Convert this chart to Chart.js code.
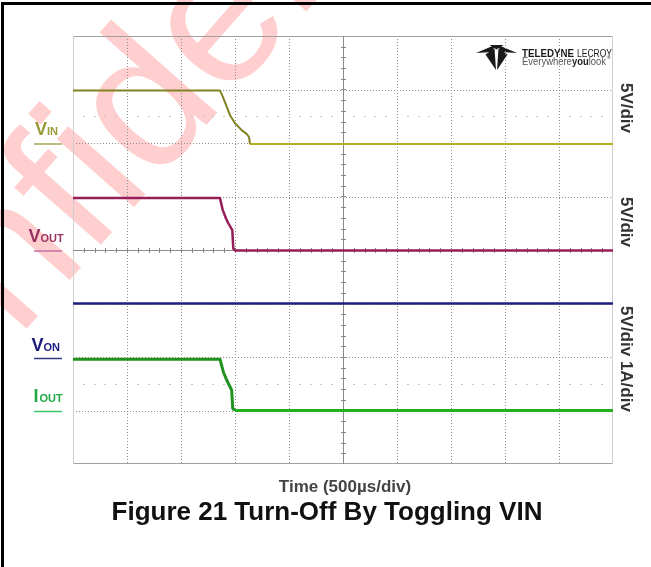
<!DOCTYPE html>
<html><head><meta charset="utf-8">
<script src="https://cdn.jsdelivr.net/npm/chart.js@4.4.1/dist/chart.umd.min.js"></script>
<style>html,body{margin:0;padding:0;background:#fff;}canvas{display:block;}</style>
</head><body>
<canvas id="c" width="651" height="567" style="width:651px;height:567px"></canvas>
<script>
// ---- data (time in µs, level in screen divisions from centre) ----
const xGridTimes = [0, 500, 1000, 1500, 2000, 2500, 3000, 3500, 4000, 4500, 5000];
const yGridDivs = [-4, -3, -2, -1, 0, 1, 2, 3, 4];

const vinTime  = [0, 1361, 1386, 1423, 1454, 1500, 1562, 1608, 1630, 1639, 5000];
const vinLevel = [2.98, 2.98, 2.87, 2.68, 2.52, 2.37, 2.24, 2.17, 2.11, 1.98, 1.98];

const voutTime  = [0, 1361, 1386, 1417, 1438, 1475, 1484, 1500, 5000];
const voutLevel = [0.97, 0.97, 0.75, 0.59, 0.50, 0.37, 0.03, -0.01, -0.01];

const vonTime  = [0, 5000];
const vonLevel = [-1.0, -1.0];

const ioutTime  = [0, 1361, 1392, 1423, 1469, 1479, 1500, 5000];
const ioutLevel = [-2.04, -2.04, -2.28, -2.43, -2.62, -2.96, -3.0, -3.0];

const seriesMain = ['V', 'V', 'V', 'I'];
const seriesSub  = ['IN', 'OUT', 'ON', 'OUT'];
const rightLabels = ['5V/div', '5V/div', '5V/div 1A/div'];
const xTitle = 'Time (500µs/div)';
const figureTitle = 'Figure 21 Turn-Off By Toggling VIN';
const watermark = 'Confidential';

function pts(t, v) { return t.map((x, i) => ({ x: x, y: v[i] })); }

const FONT = '"Liberation Sans", Arial, Helvetica, sans-serif';

const scopePlugin = {
  id: 'scope',
  beforeDraw(chart) {
    const ctx = chart.ctx;
    ctx.save();
    ctx.fillStyle = '#fff';
    ctx.fillRect(0, 0, chart.width, chart.height);
    // watermark
    ctx.translate(-147, 526);
    ctx.rotate(-48.6 * Math.PI / 180);
    ctx.fillStyle = 'rgba(255,0,0,0.19)';
    ctx.font = '195px ' + FONT;
    ctx.textAlign = 'left';
    ctx.textBaseline = 'alphabetic';
    ctx.fillText(watermark, 0, 0);
    ctx.restore();
    // page frame
    ctx.save();
    ctx.fillStyle = '#000';
    ctx.fillRect(1, 2, 3, chart.height);
    ctx.fillRect(1, 2, chart.width, 3);
    ctx.restore();
  },
  beforeDatasetsDraw(chart) {
    const ctx = chart.ctx, xs = chart.scales.x, ys = chart.scales.y, a = chart.chartArea;
    ctx.save();
    drawLogo(ctx);
    // dotted grid
    ctx.strokeStyle = '#8f8f8f';
    ctx.lineWidth = 1;
    ctx.setLineDash([1, 2]);
    xGridTimes.forEach(v => {
      if (v === 2500 || v === 0 || v === 5000) return;
      const px = Math.round(xs.getPixelForValue(v)) + 0.5;
      ctx.beginPath(); ctx.moveTo(px, a.top); ctx.lineTo(px, a.bottom); ctx.stroke();
    });
    yGridDivs.forEach(v => {
      if (v === 0 || v === 4 || v === -4) return;
      const py = Math.round(ys.getPixelForValue(v)) + 0.5;
      ctx.beginPath(); ctx.moveTo(a.left, py); ctx.lineTo(a.right, py); ctx.stroke();
    });
    ctx.setLineDash([]);
    // faint half-division tick rows
    ctx.strokeStyle = '#c4c4c4';
    [2.5, -2.5].forEach(d => {
      const py = Math.round(ys.getPixelForValue(d)) + 0.5;
      for (let t = 100; t < 5000; t += 100) {
        if (t % 500 === 0) continue;
        const px = Math.round(xs.getPixelForValue(t));
        ctx.beginPath(); ctx.moveTo(px - 1, py); ctx.lineTo(px + 1, py); ctx.stroke();
      }
    });
    // frame
    ctx.strokeStyle = '#a0a0a0';
    ctx.beginPath(); ctx.moveTo(a.left, a.top + 0.5); ctx.lineTo(a.right, a.top + 0.5); ctx.stroke();
    ctx.beginPath(); ctx.moveTo(a.left, a.bottom - 0.5); ctx.lineTo(a.right, a.bottom - 0.5); ctx.stroke();
    ctx.strokeStyle = '#cfcfcf';
    ctx.beginPath(); ctx.moveTo(a.left + 0.5, a.top); ctx.lineTo(a.left + 0.5, a.bottom); ctx.stroke();
    ctx.beginPath(); ctx.moveTo(a.right - 0.5, a.top); ctx.lineTo(a.right - 0.5, a.bottom); ctx.stroke();
    // centre cross with minor ticks
    ctx.strokeStyle = '#8a8a8a';
    const cx = Math.round(xs.getPixelForValue(2500)) + 0.5;
    const cy = Math.round(ys.getPixelForValue(0)) + 0.5;
    ctx.beginPath(); ctx.moveTo(cx, a.top); ctx.lineTo(cx, a.bottom); ctx.stroke();
    ctx.beginPath(); ctx.moveTo(a.left, cy); ctx.lineTo(a.right, cy); ctx.stroke();
    for (let t = 100; t < 5000; t += 100) {
      const px = Math.round(xs.getPixelForValue(t)) + 0.5;
      ctx.beginPath(); ctx.moveTo(px, cy - 2.5); ctx.lineTo(px, cy + 2.5); ctx.stroke();
    }
    for (let d = -3.8; d < 4; d += 0.2) {
      const py = Math.round(ys.getPixelForValue(d)) + 0.5;
      ctx.beginPath(); ctx.moveTo(cx - 2.5, py); ctx.lineTo(cx + 2.5, py); ctx.stroke();
    }
    ctx.restore();
  },
  afterDraw(chart) {
    const ctx = chart.ctx;
    ctx.save();
    // left channel labels
    const lab = [
      { x: 35,   base: 135,   col: '#9a9a38', line: '#a6a65a', uy: 144 },
      { x: 28.5, base: 241.5, col: '#98335f', line: '#c870a0', uy: 251 },
      { x: 31.5, base: 350.5, col: '#1b1b7f', line: '#35358a', uy: 358.5 },
      { x: 33.5, base: 401.5, col: '#22a844', line: '#3cc46a', uy: 411.5 }
    ];
    lab.forEach((L, i) => {
      ctx.fillStyle = L.col;
      ctx.textAlign = 'left'; ctx.textBaseline = 'alphabetic';
      ctx.font = 'bold 18px ' + FONT;
      ctx.fillText(seriesMain[i], L.x, L.base);
      const w = ctx.measureText(seriesMain[i]).width + (seriesMain[i] === 'I' ? 1 : 0);
      ctx.font = 'bold 11px ' + FONT;
      ctx.fillText(seriesSub[i], L.x + w, L.base);
      ctx.strokeStyle = L.line; ctx.lineWidth = 1.5;
      ctx.beginPath(); ctx.moveTo(34, L.uy); ctx.lineTo(62, L.uy); ctx.stroke();
    });
    // right rotated labels
    const rl = [108, 222, 359];
    ctx.fillStyle = '#333';
    ctx.font = 'bold 17px ' + FONT;
    rl.forEach((cy, i) => {
      ctx.save();
      ctx.translate(626, cy);
      ctx.rotate(Math.PI / 2);
      ctx.textAlign = 'center'; ctx.textBaseline = 'middle';
      ctx.fillText(rightLabels[i], 0, 0);
      ctx.restore();
    });
    // axis title and figure title
    ctx.textAlign = 'center'; ctx.textBaseline = 'alphabetic';
    ctx.fillStyle = '#444';
    ctx.font = 'bold 17px ' + FONT;
    ctx.fillText(xTitle, 345, 492);
    ctx.fillStyle = '#111';
    ctx.font = 'bold 26px ' + FONT;
    ctx.fillText(figureTitle, 327, 520);
    ctx.restore();
  }
};

function drawLogo(ctx) {
  ctx.save();
  ctx.fillStyle = '#1a1a1a';
  const poly = p => { ctx.beginPath(); ctx.moveTo(p[0][0], p[0][1]); for (let i = 1; i < p.length; i++) ctx.lineTo(p[i][0], p[i][1]); ctx.closePath(); ctx.fill(); };
  poly([[476, 53], [495, 45], [492.5, 52]]);
  poly([[517, 53], [498, 45], [500.5, 52]]);
  poly([[485.5, 54.5], [494.5, 48.5], [496, 70]]);
  poly([[507.5, 54.5], [498.5, 48.5], [497, 70]]);
  poly([[489.5, 45], [503.5, 45], [496.5, 49.5]]);
  ctx.textAlign = 'left'; ctx.textBaseline = 'alphabetic';
  ctx.fillStyle = '#1a1a1a';
  ctx.font = 'bold 11px ' + FONT;
  ctx.fillText('TELEDYNE', 522, 56.5, 52);
  ctx.font = '11px ' + FONT;
  ctx.fillText('LECROY', 577, 56.5, 35);
  const parts = [['Everywhere', '10px ', '#555'], ['you', 'bold 10px ', '#222'], ['look', '10px ', '#555']];
  let tot = 0;
  parts.forEach(p => { ctx.font = p[1] + FONT; tot += ctx.measureText(p[0]).width; });
  ctx.translate(522, 64.5);
  ctx.scale(84 / tot, 1);
  let x = 0;
  parts.forEach(p => { ctx.font = p[1] + FONT; ctx.fillStyle = p[2]; ctx.fillText(p[0], x, 0); x += ctx.measureText(p[0]).width; });
  ctx.font = '5px ' + FONT; ctx.fillText('™', x, -5);
  ctx.restore();
}

new Chart(document.getElementById('c'), {
  type: 'line',
  data: {
    datasets: [
      { label: 'VIN', data: pts(vinTime, vinLevel), borderColor: '#9a9a22', borderWidth: 2,
        segment: { borderColor: c => c.p0.parsed.x >= 1639 ? '#b0b01c' : '#828224' } },
      { label: 'VOUT', data: pts(voutTime, voutLevel), borderColor: '#961e58', borderWidth: 2.5 },
      { label: 'VON', data: pts(vonTime, vonLevel), borderColor: '#1e1e82', borderWidth: 2.5 },
      { label: 'IOUT', data: pts(ioutTime, ioutLevel), borderColor: '#1fa01f', borderWidth: 3,
        segment: { borderColor: c => c.p0.parsed.x >= 1500 ? '#22b022' : '#1f921f' } }
    ]
  },
  options: {
    responsive: false,
    animation: false,
    devicePixelRatio: 1,
    elements: { point: { radius: 0 }, line: { tension: 0, borderJoinStyle: 'round', borderCapStyle: 'butt' } },
    layout: { padding: { left: 73, right: 38, top: 36, bottom: 103 } },
    scales: {
      x: { type: 'linear', min: 0, max: 5000, display: false },
      y: { type: 'linear', min: -4, max: 4, display: false }
    },
    plugins: { legend: { display: false }, tooltip: { enabled: false }, title: { display: false } }
  },
  plugins: [scopePlugin]
});
</script>
</body></html>
